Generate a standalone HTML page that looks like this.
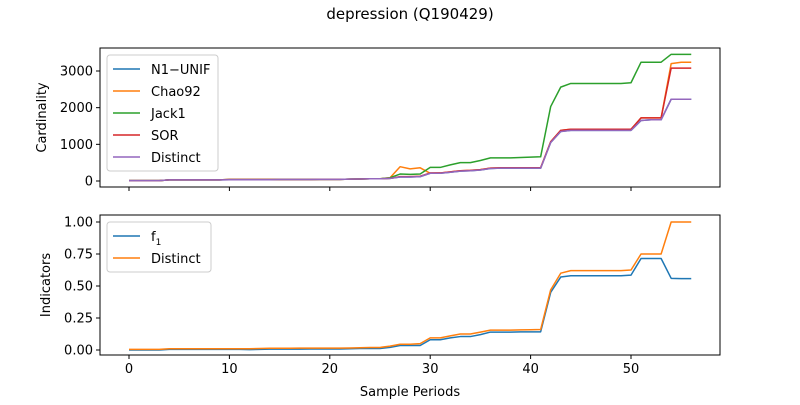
<!DOCTYPE html>
<html><head><meta charset="utf-8"><style>
body{margin:0;background:#fff;font-family:"Liberation Sans","DejaVu Sans",sans-serif}
svg text{font-family:"DejaVu Sans","Liberation Sans",sans-serif;font-size:13px;fill:#000}
</style></head><body>
<svg id="c" width="800" height="400"></svg>
<script>
const periods=[];for(let i=0;i<=56;i++)periods.push(i);
const distinct=[10,10,10,10,30,30,30,30,30,30,35,35,35,35,35,40,40,40,40,45,45,45,50,55,60,60,70,110,110,120,210,210,240,270,280,300,340,350,350,350,350,350,1050,1350,1380,1380,1380,1380,1380,1380,1380,1650,1670,1670,2230,2230,2230];
const n1unif=distinct.map(v=>v);
const sor=[10,10,10,10,30,30,30,30,30,30,40,40,40,40,40,40,40,40,40,45,45,45,50,55,60,60,70,120,120,130,220,220,250,280,290,310,350,360,360,360,360,360,1070,1380,1410,1410,1410,1410,1410,1410,1410,1720,1720,1720,3080,3080,3080];
const chao92=[10,10,10,10,30,30,30,30,30,30,40,40,40,40,40,40,40,40,40,45,45,45,50,55,60,60,90,390,330,360,210,220,250,280,290,310,350,360,360,360,360,360,1070,1380,1410,1410,1410,1410,1410,1410,1410,1720,1720,1720,3200,3240,3240];
const jack1=[10,10,10,10,30,30,30,30,30,30,40,40,40,40,40,40,40,40,40,45,45,45,50,55,60,60,90,190,180,190,370,370,440,500,500,560,630,630,630,640,650,660,2030,2560,2660,2660,2660,2660,2660,2660,2680,3240,3240,3240,3455,3455,3455];
const indF1=[0,0,0,0,0.005,0.005,0.005,0.005,0.005,0.005,0.005,0.005,0.003,0.005,0.007,0.007,0.007,0.007,0.008,0.008,0.008,0.008,0.01,0.012,0.012,0.012,0.02,0.035,0.035,0.035,0.08,0.08,0.095,0.105,0.105,0.12,0.14,0.14,0.14,0.142,0.142,0.142,0.45,0.57,0.58,0.58,0.58,0.58,0.58,0.58,0.585,0.715,0.715,0.715,0.56,0.558,0.558];
const indDistinct=[0.005,0.005,0.005,0.005,0.01,0.01,0.01,0.01,0.01,0.01,0.01,0.01,0.01,0.012,0.014,0.014,0.014,0.015,0.015,0.015,0.015,0.015,0.016,0.018,0.02,0.02,0.03,0.045,0.045,0.05,0.095,0.095,0.11,0.125,0.125,0.14,0.155,0.155,0.155,0.157,0.158,0.16,0.47,0.60,0.62,0.62,0.62,0.62,0.62,0.62,0.625,0.75,0.75,0.75,1.0,1.0,1.0];
const xTicks=[0,10,20,30,40,50];
const topTicks=[0,1000,2000,3000];
const botTicks=[0,0.25,0.5,0.75,1.0];
const botTickLabels=["0.00","0.25","0.50","0.75","1.00"];

const svg=document.getElementById('c');const NS="http://www.w3.org/2000/svg";
function el(t,a,p){const e=document.createElementNS(NS,t);for(const k in a)e.setAttribute(k,a[k]);(p||svg).appendChild(e);return e;}
const X=v=>129+v*(631-129)/50;
const Yt=v=>181-v*110/3000;
const Yb=v=>350-v*128;
function axes(top,bot,ticks,labels,Y,name,ylabel,showX,ylx){
  const g=el('g',{});
  el('rect',{x:100,y:top,width:620,height:bot-top,fill:'none',stroke:'#000','stroke-width':1},g);
  xTicks.forEach(t=>{el('line',{x1:X(t),x2:X(t),y1:bot,y2:bot+4,stroke:'#000'},g);
    if(showX){const tx=el('text',{x:X(t),y:bot+18,'text-anchor':'middle'},g);tx.textContent=t;}});
  ticks.forEach((t,i)=>{el('line',{x1:96,x2:100,y1:Y(t),y2:Y(t),stroke:'#000'},g);
    const tx=el('text',{x:93,y:Y(t)+4.5,'text-anchor':'end'},g);tx.textContent=labels[i];});
  const yl=el('text',{x:0,y:0,transform:`translate(${ylx},${(top+bot)/2}) rotate(-90)`,'text-anchor':'middle'},g);yl.textContent=ylabel;
}
function line(data,Y,color,name){const p=el('polyline',{points:data.map((v,i)=>X(periods[i])+','+Y(v)).join(' '),fill:'none',stroke:color,'stroke-width':1.5,'stroke-linejoin':'round'});
  }
const t=el('text',{x:410,y:19,'text-anchor':'middle'});t.style.fontSize='15px';t.textContent='depression (Q190429)';

axes(48,187,topTicks,topTicks.map(String),Yt,'top-axes','Cardinality',false,46);
axes(215,355,botTicks,botTickLabels,Yb,'bottom-axes','Indicators',true,50);
const xl=el('text',{x:410,y:396,'text-anchor':'middle'});xl.textContent='Sample Periods';
line(n1unif,Yt,'#1f77b4','series-n1-unif');line(chao92,Yt,'#ff7f0e','series-chao92');line(jack1,Yt,'#2ca02c','series-jack1');line(sor,Yt,'#d62728','series-sor');line(distinct,Yt,'#9467bd','series-distinct');
line(indF1,Yb,'#1f77b4','series-f1');line(indDistinct,Yb,'#ff7f0e','series-indicator-distinct');
function legend(x,y,w,items,name){const g=el('g',{});
  el('rect',{x:x,y:y,width:w,height:items.length*22+6,rx:3,fill:'#fff',stroke:'#ccc'},g);
  items.forEach((it,i)=>{const yy=y+14+i*22;el('line',{x1:x+6,x2:x+33,y1:yy,y2:yy,stroke:it[1],'stroke-width':1.5},g);
    const tx=el('text',{x:x+44,y:yy+5},g);tx.innerHTML=it[0];});}
legend(107,55,111,[['N1−UNIF','#1f77b4'],['Chao92','#ff7f0e'],['Jack1','#2ca02c'],['SOR','#d62728'],['Distinct','#9467bd']],'top-legend');
legend(107,222,104,[['f<tspan font-size="9" dy="4">1</tspan>','#1f77b4'],['Distinct','#ff7f0e']],'bottom-legend');
</script>
</body></html>
